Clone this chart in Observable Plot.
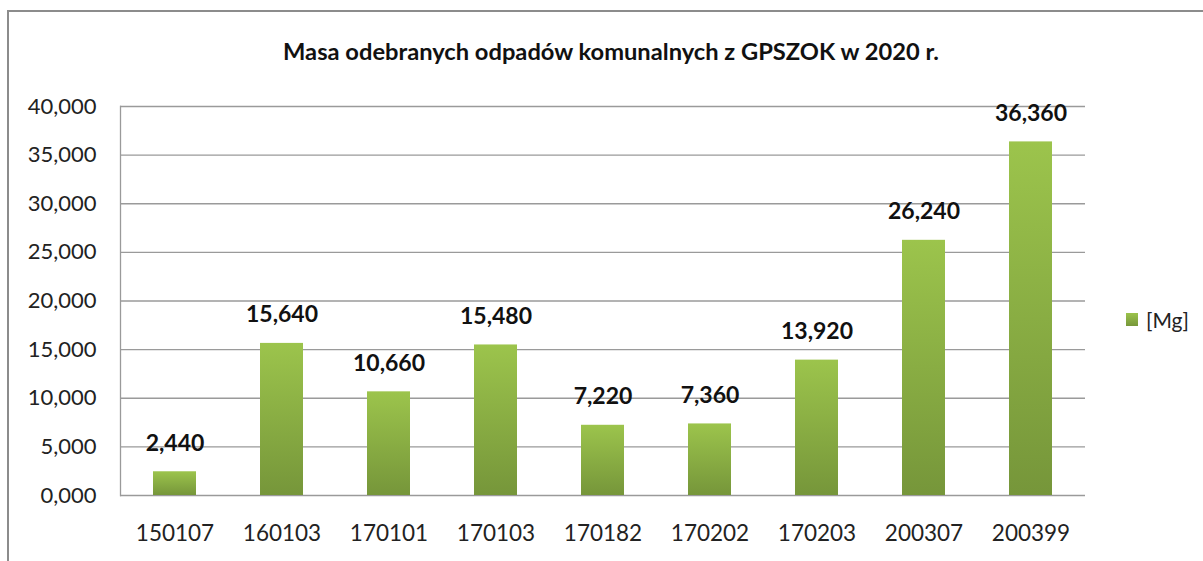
<!DOCTYPE html>
<html>
<head>
<meta charset="utf-8">
<script src="https://cdn.jsdelivr.net/npm/d3@7"></script>
<script src="https://cdn.jsdelivr.net/npm/@observablehq/plot@0.6"></script>
<style>
  html, body { margin: 0; padding: 0; background: #fff; }
  #wrap { position: relative; width: 1203px; height: 561px; overflow: hidden; font-family: Lato, "Open Sans", sans-serif; }
  #border { position: absolute; left: 7px; top: 10px; right: -5px; bottom: -5px; border-left: 2px solid #8c8c8c; border-top: 2px solid #8c8c8c; }
  #title { position: absolute; left: 0; width: 1222px; top: 37px; text-align: center; font-weight: bold; font-size: 23.7px; color: #111; }
  #legend { position: absolute; left: 1126px; top: 307px; font-size: 21px; color: #222; display: flex; align-items: center; }
  #legend .sw { width: 12px; height: 13px; background: linear-gradient(#9bc34b, #77973a); margin-right: 8px; }
  #chart { position: absolute; left: 0; top: 0; }
</style>
</head>
<body>
<div id="wrap">
  <div id="border"></div>
  <div id="chart"></div>
  <div id="title">Masa odebranych odpadów komunalnych z GPSZOK w 2020 r.</div>
  <div id="legend"><div class="sw"></div><span>[Mg]</span></div>
</div>
<script>
const categories = ["150107", "160103", "170101", "170103", "170182", "170202", "170203", "200307", "200399"];
const values = [2.44, 15.64, 10.66, 15.48, 7.22, 7.36, 13.92, 26.24, 36.36];
const yTicks = [0, 5, 10, 15, 20, 25, 30, 35, 40];

const data = categories.map((c, i) => ({ code: c, value: values[i] }));
const fmt = d => d3.format(".3f")(d).replace(".", ",");

const plot = Plot.plot({
  width: 1203,
  height: 561,
  marginLeft: 120,
  marginRight: 118,
  marginTop: 106,
  marginBottom: 66,
  style: { fontFamily: "Lato, 'Open Sans', sans-serif", fontSize: "22px", color: "#222", background: "transparent", overflow: "visible" },
  x: { domain: categories, paddingInner: 0.6, paddingOuter: 0.3, label: null },
  y: { domain: [0, 40], label: null },
  marks: [
    Plot.gridY(yTicks, { stroke: "#9a9a9a", strokeOpacity: 1, strokeWidth: 1.3 }),
    Plot.frame({ anchor: "left", stroke: "#9a9a9a", strokeWidth: 1.3 }),
    Plot.barY(data, { x: "code", y: "value", fill: "url(#barGrad)", style: "filter: drop-shadow(1px 1px 2px rgba(0,0,0,0.25))" }),
    Plot.text(data, { x: "code", y: "value", text: d => fmt(d.value), dy: -21, lineAnchor: "bottom", fontWeight: "bold", fontSize: 23, fill: "#111" }),
    Plot.axisY(yTicks, { tickSize: 0, tickPadding: 24, tickFormat: fmt, fontSize: 22, fill: "#222" }),
    Plot.axisX({ tickSize: 0, tickPadding: 30, fontSize: 22.5, fill: "#222" })
  ]
});

const defs = document.createElementNS("http://www.w3.org/2000/svg", "defs");
defs.innerHTML = `<linearGradient id="barGrad" x1="0" y1="0" x2="0" y2="1">
  <stop offset="0%" stop-color="#9cc44c"/>
  <stop offset="100%" stop-color="#76963a"/>
</linearGradient>`;
plot.insertBefore(defs, plot.firstChild);
document.getElementById("chart").appendChild(plot);
</script>
</body>
</html>
